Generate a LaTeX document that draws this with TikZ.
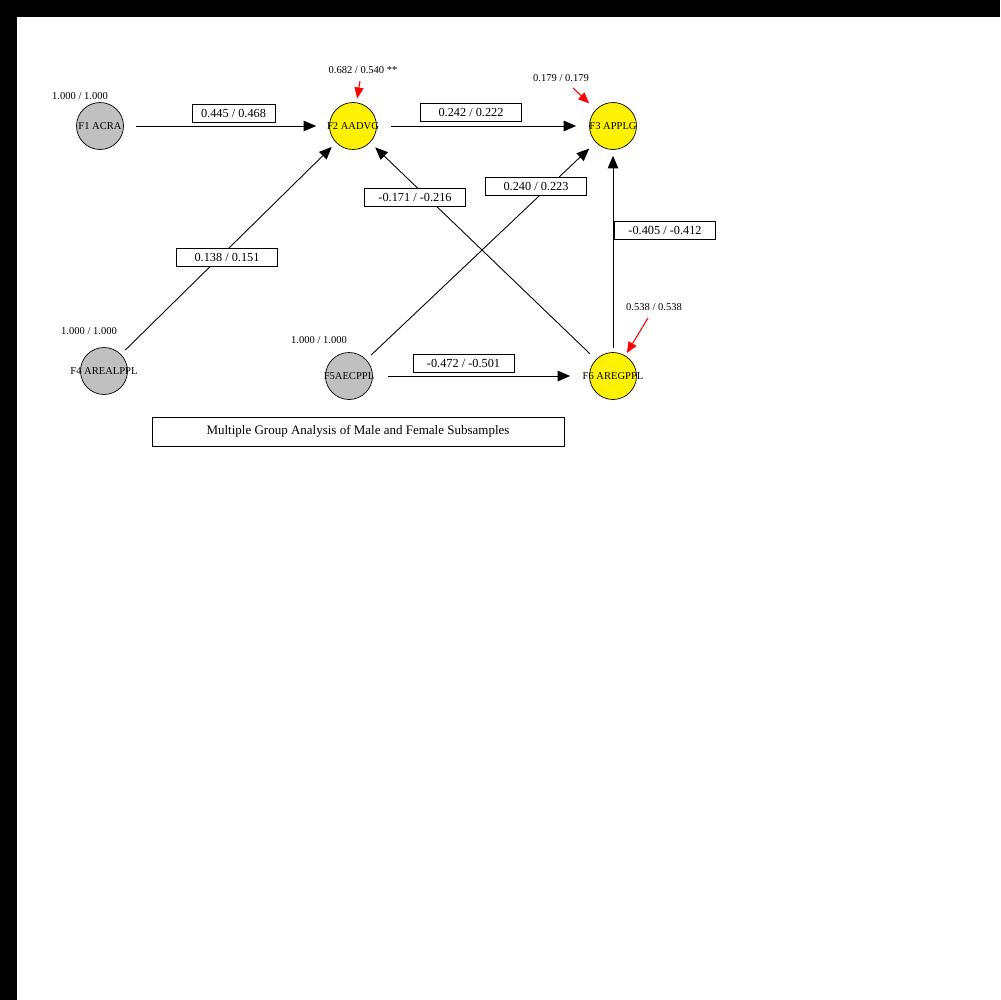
\documentclass[tikz,border=0pt]{standalone}
\usepackage{fontspec}
\setmainfont{Liberation Serif}
\usetikzlibrary{arrows.meta}
\definecolor{exogray}{RGB}{192,192,192}
\tikzset{
  exo/.style={draw, circle, fill=exogray, minimum size=0.94cm, inner sep=0pt,
    label={[font=\fontsize{6}{7}\selectfont, inner sep=0pt]center:#1}},
  endo/.style={exo=#1, fill=yellow},
  coef/.style={draw, fill=white, minimum width=2.02cm, minimum height=0.36cm, inner sep=0pt,
    font=\fontsize{7}{8}\selectfont},
  rsq/.style={inner sep=0pt, font=\fontsize{6}{7}\selectfont},
  link/.style={-{Triangle[length=0.25cm,width=0.21cm]}, line width=0.5pt},
  resid/.style={red, -{Triangle[length=0.22cm,width=0.18cm]}, line width=0.6pt}
}
\begin{document}
\begin{tikzpicture}[x=0.02cm, y=-0.02cm]
\useasboundingbox (0,0) rectangle (1000,1000);
\fill[black] (0,0) rectangle (1000,1000);
\fill[white] (17,17) rectangle (1000,1000);

% latent factors
\node[exo=F1 ACRA] (f1) at (100,126) {};
\node[endo=F2 AADVG] (f2) at (353,126) {};
\node[endo=F3 APPLG] (f3) at (613,126) {};
\node[exo=F4 AREALPPL] (f4) at (104,371) {};
\node[exo=F5AECPPL] (f5) at (349,376) {};
\node[endo=F6 AREGPPL] (f6) at (613,376) {};

% variances / R2
\node[rsq] (v1) at (80,96) {1.000 / 1.000};
\node[rsq] (v2) at (363,70) {0.682 / 0.540 **};
\node[rsq] (v3) at (561,78) {0.179 / 0.179};
\node[rsq] (v4) at (89,331) {1.000 / 1.000};
\node[rsq] (v5) at (319,340) {1.000 / 1.000};
\node[rsq] (v6) at (654,307) {0.538 / 0.538};

\coordinate (e2) at (360,81);
\coordinate (e3) at (573,88);
\coordinate (e6) at (648,318);

\draw[resid, shorten >=0.08cm] (e2) -- (f2);
\draw[resid, shorten >=0.18cm] (e3) -- (f3);
\draw[resid, shorten >=0.06cm] (e6) -- (f6);

% paths
\draw[link, shorten <=0.24cm, shorten >=0.26cm] (f1) -- (f2);
\draw[link, shorten <=0.28cm, shorten >=0.26cm] (f2) -- (f3);
\draw[link, shorten <=0.3cm, shorten >=0.38cm] (f5) -- (f6);
\draw[link, shorten <=0.12cm, shorten >=0.12cm] (f4) -- (f2);
\draw[link, shorten <=0.13cm, shorten >=0.18cm] (f5) -- (f3);
\draw[link, shorten <=0.16cm, shorten >=0.14cm] (f6) -- (f2);
\draw[link, shorten <=0.08cm, shorten >=0.12cm] (f6) -- (f3);

% coefficients
\node[coef, minimum width=1.66cm] (c12) at (233.5,113.5) {0.445 / 0.468};
\node[coef] (c23) at (471,112.5) {0.242 / 0.222};
\node[coef] (c62) at (415,197) {-0.171 / -0.216};
\node[coef] (c53) at (536,186) {0.240 / 0.223};
\node[coef] (c63) at (665,230.5) {-0.405 / -0.412};
\node[coef] (c42) at (227,257) {0.138 / 0.151};
\node[coef] (c56) at (463.5,363) {-0.472 / -0.501};

\node[draw, minimum width=8.24cm, minimum height=0.58cm, inner sep=0pt,
  font=\fontsize{7.4}{9}\selectfont] (title) at (358,431.5)
  {Multiple Group Analysis of Male and Female Subsamples};
\end{tikzpicture}
\end{document}
